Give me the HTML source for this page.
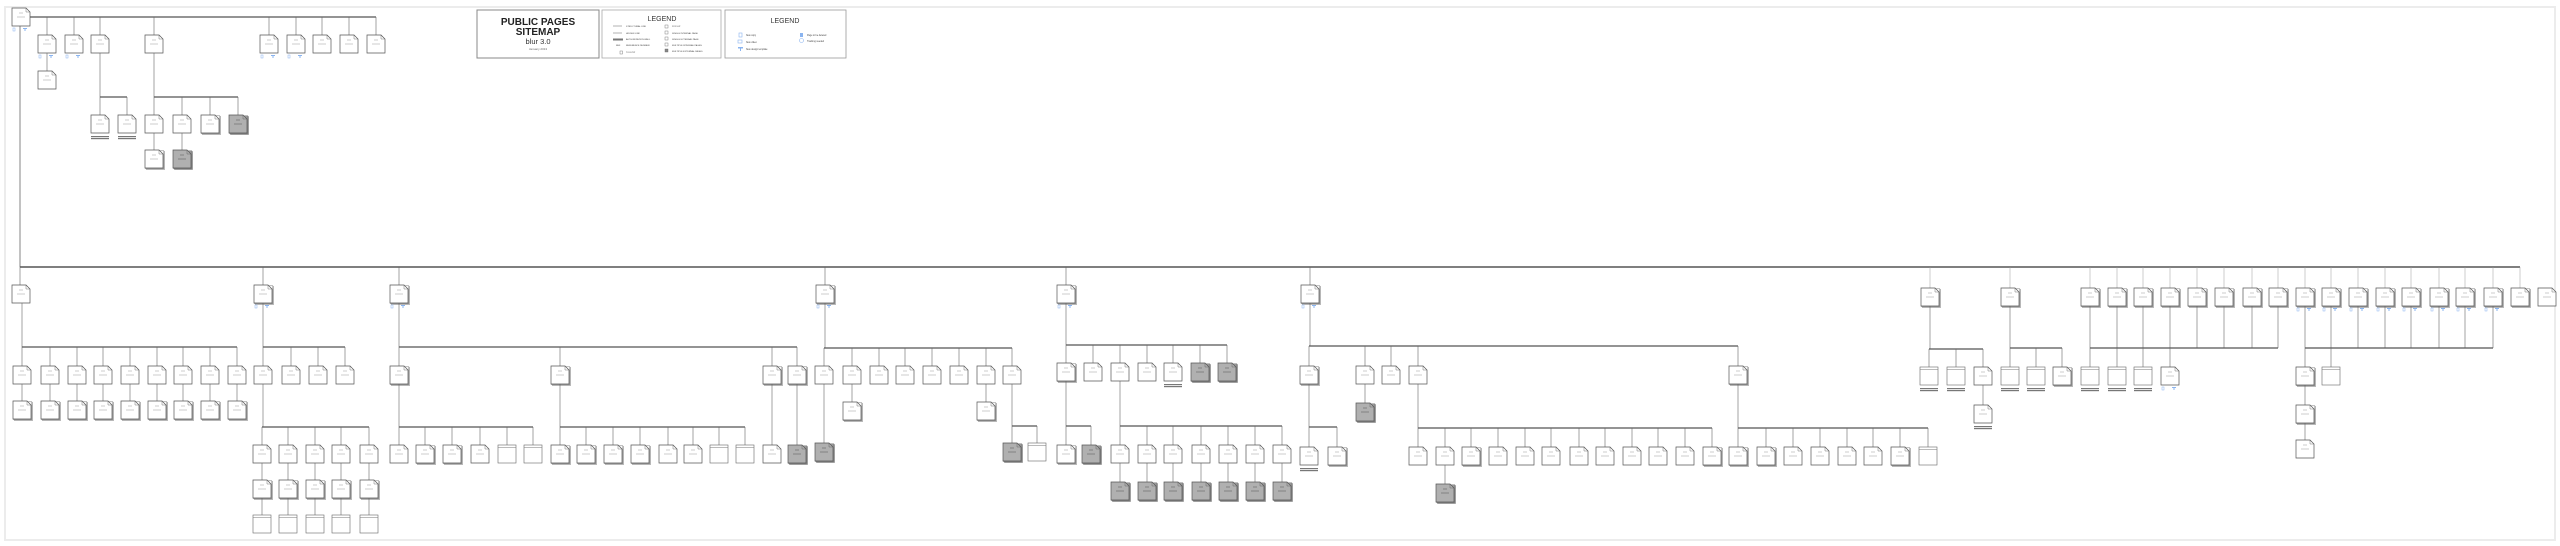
<!DOCTYPE html>
<html><head><meta charset="utf-8">
<style>
html,body{margin:0;padding:0;background:#fff;}
body{width:2560px;height:546px;overflow:hidden;position:relative;font-family:"Liberation Sans",sans-serif;}
svg{position:absolute;left:0;top:0;}
</style></head>
<body>
<svg id="s" width="2560" height="546" viewBox="0 0 2560 546" xmlns="http://www.w3.org/2000/svg">
<rect x="5" y="7" width="2550" height="533" fill="none" stroke="#ececec" stroke-width="2"/>
<!-- title -->
<rect x="477" y="10" width="122" height="48" fill="#fff" stroke="#888" stroke-width="1"/>
<text x="538" y="25" font-size="10" font-weight="bold" text-anchor="middle" fill="#222">PUBLIC PAGES</text>
<text x="538" y="35" font-size="10" font-weight="bold" text-anchor="middle" fill="#222">SITEMAP</text>
<text x="538" y="44" font-size="7.5" text-anchor="middle" fill="#333">blur 3.0</text>
<text x="538" y="50" font-size="3" text-anchor="middle" fill="#666">January 2013</text>
<!-- legend 1 -->
<rect x="602" y="10" width="119" height="48" fill="#fff" stroke="#aaa" stroke-width="0.8"/>
<text x="662" y="21" font-size="7" text-anchor="middle" fill="#333">LEGEND</text>
<g font-size="2.2" fill="#444">
<line x1="613" y1="26" x2="622" y2="26" stroke="#666" stroke-width="0.5"/><text x="626" y="27">STRUCTURAL LINK</text>
<line x1="613" y1="33" x2="622" y2="33" stroke="#666" stroke-width="0.5"/><text x="626" y="34">HIDDEN LINK</text>
<rect x="613" y="38.5" width="10" height="2" fill="#777"/><text x="626" y="40">AUTHORIZATION WALL</text>
<text x="616" y="46">REF</text><text x="626" y="46">REFERENCE NUMBER</text>
<rect x="620" y="51" width="2.5" height="3" fill="none" stroke="#666" stroke-width="0.4"/><text x="626" y="53">TOOLTIP</text>
<rect x="665" y="25" width="3" height="3" fill="none" stroke="#666" stroke-width="0.4"/><text x="672" y="27">POP-UP</text>
<rect x="665" y="31" width="3" height="3" fill="none" stroke="#666" stroke-width="0.4"/><text x="672" y="34">SINGLE INTERNAL PAGE</text>
<rect x="665" y="37" width="3" height="3" fill="none" stroke="#666" stroke-width="0.4"/><text x="672" y="40">SINGLE EXTERNAL PAGE</text>
<rect x="665" y="43" width="3" height="3" fill="none" stroke="#666" stroke-width="0.4"/><text x="672" y="46">MULTIPLE INTERNAL PAGES</text>
<rect x="665" y="49" width="3" height="3" fill="#888" stroke="#666" stroke-width="0.4"/><text x="672" y="52">MULTIPLE EXTERNAL PAGES</text>
</g>
<!-- legend 2 -->
<rect x="725" y="10" width="121" height="48" fill="#fff" stroke="#999" stroke-width="0.8"/>
<text x="785" y="23" font-size="7" text-anchor="middle" fill="#333">LEGEND</text>
<g font-size="2.3" fill="#444">
<rect x="739" y="33" width="3" height="4" fill="none" stroke="#8ab4f0" stroke-width="0.6"/><text x="746" y="36">New copy</text>
<rect x="738" y="40" width="4" height="3" fill="none" stroke="#8ab4f0" stroke-width="0.6"/><text x="746" y="43">New video</text>
<rect x="738" y="47" width="5" height="1.5" fill="#8ab4f0"/><rect x="740" y="48" width="1" height="3" fill="#8ab4f0"/><text x="746" y="50">New design template</text>
<rect x="800" y="33" width="3" height="4" fill="#8ab4f0"/><text x="807" y="36">Page to be deleted</text>
<circle cx="801.5" cy="40.5" r="2" fill="none" stroke="#8ab4f0" stroke-width="0.6"/><text x="807" y="42">Tracking needed</text>
</g>
<g id="g"></g>
</svg>
<script>
var G=document.getElementById('g'),NS='http://www.w3.org/2000/svg',out='';
function L(x1,y1,x2,y2,w,c){out+='<line x1="'+x1+'" y1="'+y1+'" x2="'+x2+'" y2="'+y2+'" stroke="'+(c||'#666')+'" stroke-width="'+(w||0.6)+'"/>';}
function B(x1,y,x2){L(x1,y,x2,y,1.3,'#555');}
function box(cx,y,t,band){
 var x=cx-9,w=18,h=18;
 if(t=='s'||t=='g'){var f=t=='g'?'#9a9a9a':'#fff';
   out+='<rect x="'+(x+1.5)+'" y="'+(y+1.5)+'" width="'+w+'" height="'+h+'" fill="'+f+'" stroke="#777" stroke-width="0.5"/>';
   out+='<rect x="'+(x+0.8)+'" y="'+(y+0.8)+'" width="'+w+'" height="'+h+'" fill="'+f+'" stroke="#777" stroke-width="0.5"/>';}
 var fill=t=='g'?'#b0b0b0':'#fff';
 if(t=='h'){out+='<rect x="'+x+'" y="'+y+'" width="'+w+'" height="'+h+'" fill="#fff" stroke="#666" stroke-width="0.6"/>';
   L(x,y+2.5,x+w,y+2.5,0.5,'#777');}
 else{out+='<path d="M'+x+' '+y+'H'+(x+w-4)+'L'+(x+w)+' '+(y+4)+'V'+(y+h)+'H'+x+'Z" fill="'+fill+'" stroke="#555" stroke-width="0.7"/>';
   out+='<path d="M'+(x+w-4)+' '+y+'V'+(y+4)+'H'+(x+w)+'" fill="none" stroke="#555" stroke-width="0.4"/>';
   var tc=t=='g'?'#555':'#999';
   L(cx-2,y+5,cx+2,y+5,0.5,tc);L(cx-4,y+9,cx+4,y+9,0.5,tc);}
 if(band){out+='<rect x="'+(x)+'" y="'+(y+h+3)+'" width="'+w+'" height="1.2" fill="#777"/><rect x="'+x+'" y="'+(y+h+5)+'" width="'+w+'" height="1.2" fill="#777"/>';}
}
function ico(cx,y){out+='<rect x="'+(cx-8)+'" y="'+(y+20)+'" width="2" height="3" fill="none" stroke="#8ab4f0" stroke-width="0.5"/><rect x="'+(cx+2)+'" y="'+(y+20)+'" width="4" height="1" fill="#8ab4f0"/><rect x="'+(cx+3.5)+'" y="'+(y+21)+'" width="1" height="2" fill="#8ab4f0"/>';}
function grp(px,pb,by,kids,cy,types,bands){
 L(px,pb,px,by);B(Math.min(px,kids[0]),by,Math.max(px,kids[kids.length-1]));
 kids.forEach(function(k,i){L(k,by,k,cy);box(k,cy,(types&&types[i])||'p',bands&&bands[i]);});
}
function ch(cx,y1,y2,t,band){L(cx,y1,cx,y2);box(cx,y2,t,band);}

/* top */
box(21,8,'p');ico(21,8);
B(30,17,376);
L(20,26,20,267,0.8);
[47,74,100,154,269,296,322,349,376].forEach(function(k){L(k,17,k,35);box(k,35,'p');});
[47,74,269,296].forEach(function(k){ico(k,35);});
ch(47,53,71,'p');
grp(100,53,97,[100,127],115,['p','p'],[1,1]);
grp(154,53,97,[154,182,210,238],115,['p','p','s','g']);
ch(154,133,150,'s');ch(182,133,150,'g');

/* main bar */
L(20,267,2520,267,1.6,'#555');
[263,399,825,1066,1310].forEach(function(k){L(k,267,k,285);box(k,285,'s');ico(k,285);});
L(20,267,20,285);box(21,285,'p');
var R=[1930,2010,2090,2117,2143,2170,2197,2224,2252,2278,2305,2331,2358,2385,2411,2439,2465,2493,2520];
R.forEach(function(k){L(k,267,k,288,0.5,'#999');box(k,288,'s');});
box(2547,288,'p');
[2305,2331,2358,2385,2411,2439,2465,2493].forEach(function(k){ico(k,288);});

/* blog */
var bk=[22,50,77,103,130,157,183,210,237];
grp(22,303,347,bk,366);
bk.forEach(function(k){ch(k,384,401,'s');});
/* careers */
grp(263,303,347,[263,291,318,345],366);
var ck=[262,288,315,341,369];
grp(263,384,427,ck,445);
ck.forEach(function(k){ch(k,463,480,'s');ch(k,498,515,'h');});
/* customers */
grp(399,303,347,[399,560,772,797],366,['s','s','s','s']);
grp(399,384,427,[399,425,452,480,507,533],445,['p','s','s','p','h','h']);
grp(560,384,427,[560,586,613,640,668,693,719,745],445,['s','s','s','s','p','p','h','h']);
ch(772,384,445,'p');ch(797,384,445,'g');
/* 825 */
grp(825,303,348,[824,852,879,905,932,959,986,1012],366);
ch(852,384,402,'s');ch(986,384,402,'s');ch(824,384,443,'g');
grp(1012,384,426,[1012,1037],443,['g','h']);
/* 1066 */
grp(1066,303,345,[1066,1093,1120,1147,1173,1200,1227],363,['s','p','p','p','p','g','g'],[0,0,0,0,1,0,0]);
grp(1066,381,426,[1066,1091],445,['s','g']);
var k7=[1120,1147,1173,1201,1228,1255,1282];
grp(1120,381,426,k7,445);
k7.forEach(function(k){ch(k,463,482,'g');});
/* 1310 */
grp(1310,303,346,[1309,1365,1391,1418,1738],366,['s','p','p','p','s']);
ch(1365,384,403,'g');
grp(1309,384,427,[1309,1337],447,['p','s'],[1,0]);
grp(1418,384,428,[1418,1445,1471,1498,1525,1551,1579,1605,1632,1658,1685,1712],447,['p','p','s','p','p','p','p','p','p','p','p','s']);
ch(1445,465,484,'g');
grp(1738,384,428,[1738,1766,1793,1820,1847,1873,1900,1928],447,['s','s','p','p','p','p','s','h']);
/* right */
grp(1930,306,349,[1929,1956,1983],367,['h','h','p'],[1,1,0]);
ch(1983,385,405,'p',1);
grp(2010,306,348,[2010,2036,2062],367,['h','h','s'],[1,1,0]);
[2090,2117,2143,2170,2197,2224,2252,2278].forEach(function(k){L(k,306,k,348);});
B(2090,348,2278);
[2090,2117,2143].forEach(function(k){ch(k,348,367,'h',1);});
ch(2170,348,367,'p');ico(2170,367);
[2305,2331,2358,2385,2411,2439,2465,2493].forEach(function(k){L(k,306,k,348);});
B(2305,348,2493);
ch(2305,348,367,'s');ch(2305,385,405,'s');ch(2305,423,440,'p');
ch(2331,348,367,'h');
G.innerHTML=out;
</script>
</body></html>
